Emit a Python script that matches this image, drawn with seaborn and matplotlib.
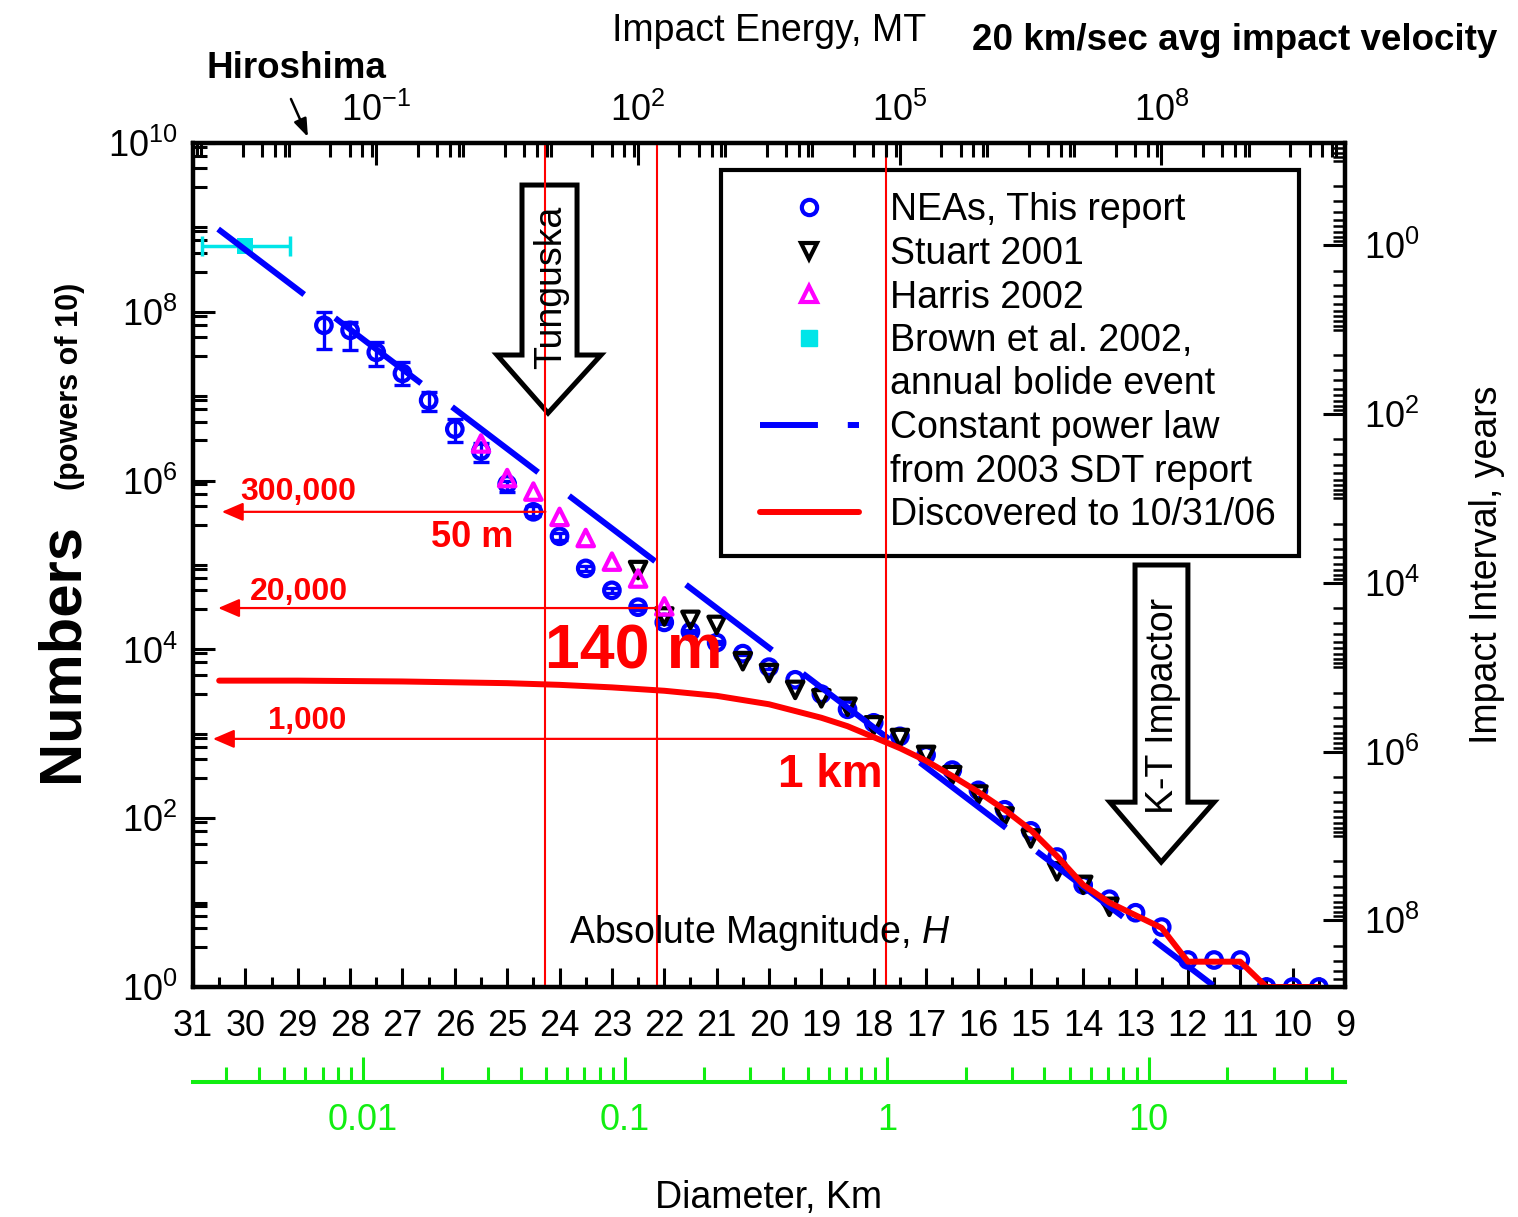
import numpy as np
import matplotlib.pyplot as plt
import matplotlib.ticker as mticker
from matplotlib.lines import Line2D
from matplotlib.patches import Polygon
from matplotlib.legend_handler import HandlerLine2D
import seaborn as sns

# ---- data: absolute magnitude H and log10 of cumulative number N(<H) ----
nea_h = np.array([28.5, 28.0, 27.5, 27.0, 26.5, 26.0, 25.5, 25.0, 24.5, 24.0,
                  23.5, 23.0, 22.5, 22.0, 21.5, 21.0, 20.5, 20.0, 19.5, 19.0,
                  18.5, 18.0, 17.5, 17.0, 16.5, 16.0, 15.5, 15.0, 14.5, 14.0,
                  13.5, 13.0, 12.5, 12.0, 11.5, 11.0, 10.5, 10.0, 9.5])
nea_logn = np.array([7.84, 7.78, 7.52, 7.27, 6.95, 6.61, 6.35, 5.96, 5.63, 5.34,
                     4.96, 4.70, 4.50, 4.32, 4.21, 4.08, 3.95, 3.79, 3.64, 3.47,
                     3.29, 3.13, 2.97, 2.75, 2.57, 2.33, 2.10, 1.85, 1.54, 1.21,
                     1.04, 0.88, 0.71, 0.32, 0.32, 0.32, 0.0, 0.0, 0.0])
# error bars on the faint end (first 18 NEA points)
nea_err_hi = np.array([8.00, 7.88, 7.64, 7.41, 7.05, 6.73, 6.45, 6.00, 5.70, 5.38,
                       4.99, 4.73, 4.53, 4.34, 4.23, 4.10, 3.97, 3.81])
nea_err_lo = np.array([7.56, 7.55, 7.36, 7.13, 6.82, 6.46, 6.22, 5.86, 5.58, 5.30,
                       4.93, 4.67, 4.47, 4.30, 4.19, 4.06, 3.93, 3.77])

stuart_h = np.array([22.5, 22.0, 21.5, 21.0, 20.5, 20.0, 19.5, 19.0, 18.5, 18.0,
                     17.5, 17.0, 16.5, 16.0, 15.5, 15.0, 14.5, 14.0, 13.5])
stuart_logn = np.array([4.94, 4.39, 4.35, 4.29, 3.86, 3.72, 3.52, 3.42, 3.32, 3.10,
                        2.95, 2.75, 2.51, 2.28, 2.02, 1.76, 1.37, 1.21, 0.95])

harris_h = np.array([25.5, 25.0, 24.5, 24.0, 23.5, 23.0, 22.5, 22.0])
harris_logn = np.array([6.44, 6.03, 5.87, 5.57, 5.32, 5.04, 4.84, 4.51])

brown_h = np.array([30.0])
brown_logn = np.array([8.78])
brown_h_lo = np.array([30.85])
brown_h_hi = np.array([29.17])

sdt_h = np.array([30.52, 11.52])
sdt_logn = np.array([8.98, 0.02])

disc_h = np.array([30.5, 29.0, 28.0, 27.0, 26.0, 25.0, 24.0, 23.0, 22.0, 21.0,
                   20.0, 19.5, 19.0, 18.5, 18.0, 17.5, 17.0, 16.5, 16.0, 15.5,
                   15.0, 14.5, 14.0, 13.5, 13.0, 12.5, 12.0, 11.5, 11.0, 10.5,
                   10.0, 9.5])
disc_logn = np.array([3.63, 3.63, 3.625, 3.62, 3.61, 3.60, 3.58, 3.55, 3.51, 3.45,
                      3.35, 3.27, 3.19, 3.09, 2.96, 2.83, 2.68, 2.50, 2.31, 2.10,
                      1.86, 1.55, 1.21, 1.00, 0.85, 0.70, 0.30, 0.30, 0.30, 0.0,
                      0.0, 0.0])

# size markers (50 m, 140 m, 1 km) and population arrows
size_h = [24.27, 22.14, 17.76]
pop_names = ['300,000', '20,000', '1,000']
pop_logn = [5.63, 4.49, 2.94]
pop_tip_h = [30.45, 30.52, 30.62]

# secondary scales: log10(E[MT]) = E0 - 0.6 H, log10(D[km]) = D0 - 0.2 H,
# log10(interval[yr]) = T0 - log10(N)
E0, D0, T0 = 15.503, 3.55, 8.79
H_LEFT, H_RIGHT = 31, 9

BLUE, RED, MAGENTA, CYAN, GREEN = '#0000ff', '#ff0000', '#ff00ff', '#00e5e8', '#11ee11'

sns.set_style('ticks')
plt.rcParams['font.family'] = ['Liberation Sans', 'DejaVu Sans']
plt.rcParams.update({
    'mathtext.fontset': 'custom',
    'mathtext.rm': 'Liberation Sans',
    'mathtext.it': 'Liberation Sans:italic',
    'mathtext.bf': 'Liberation Sans:bold',
    'axes.edgecolor': 'black',
    'axes.labelcolor': 'black',
    'axes.linewidth': 3,
    'xtick.color': 'black',
    'ytick.color': 'black',
    'text.color': 'black',
})


def pow_label(v, pos):
    return '$\\mathdefault{10^{%d}}$' % int(round(np.log10(v)))


W, Hpx = 1518, 1217
fig = plt.figure(figsize=(W / 100, Hpx / 100), dpi=100)
ax = fig.add_axes([193 / W, 1 - 987 / Hpx, (1345 - 193) / W, (987 - 143) / Hpx])
ax.set_yscale('log')

# data points
n_err = len(nea_err_hi)
ax.errorbar(nea_h[:n_err], 10 ** nea_logn[:n_err],
            yerr=[10 ** nea_logn[:n_err] - 10 ** nea_err_lo,
                  10 ** nea_err_hi - 10 ** nea_logn[:n_err]],
            fmt='none', ecolor=BLUE, elinewidth=2.4, capsize=6, capthick=2.4, zorder=3)
sns.scatterplot(x=nea_h, y=10 ** nea_logn, ax=ax, marker='o', s=125, color=BLUE,
                facecolor='none', edgecolor=BLUE, linewidth=3, zorder=3, legend=False)
sns.scatterplot(x=stuart_h, y=10 ** stuart_logn, ax=ax, marker='v', s=140, color='black',
                facecolor='none', edgecolor='black', linewidth=3, zorder=3.5, legend=False)
sns.scatterplot(x=harris_h, y=10 ** harris_logn, ax=ax, marker='^', s=140, color=MAGENTA,
                facecolor='none', edgecolor=MAGENTA, linewidth=3, zorder=3.6, legend=False)
ax.errorbar(brown_h, 10 ** brown_logn, xerr=[brown_h_lo - brown_h, brown_h - brown_h_hi],
            fmt='none', ecolor=CYAN, elinewidth=2.5, capsize=7, capthick=2.5, zorder=3)
sns.scatterplot(x=brown_h, y=10 ** brown_logn, ax=ax, marker='s', s=140, color=CYAN,
                edgecolor=CYAN, linewidth=0, zorder=3.7, legend=False)

# power law and discovered curve
sns.lineplot(x=sdt_h, y=10 ** sdt_logn, ax=ax, color=BLUE, lw=4.3, estimator=None,
             sort=False, linestyle=(0, (18.1, 6.5)), zorder=5)
sns.lineplot(x=disc_h, y=10 ** disc_logn, ax=ax, color=RED, lw=4.3, estimator=None,
             sort=False, zorder=5.5)

ax.set_xlim(H_LEFT, H_RIGHT)
ax.set_ylim(1, 1e10)
ax.set_xlabel('')
ax.set_ylabel('')

# size lines, population arrows and labels
for h in size_h:
    ax.axvline(h, color=RED, lw=1.5, zorder=6)
for ln, tip, h in zip(pop_logn, pop_tip_h, size_h):
    ax.annotate('', xy=(tip, 10 ** ln), xytext=(h, 10 ** ln),
                arrowprops=dict(arrowstyle='-|>,head_length=0.65,head_width=0.28',
                                color=RED, lw=1.6, mutation_scale=20,
                                shrinkA=0, shrinkB=0), zorder=6)
label_pos = {'300,000': (28.99, 5.865, 23), '20,000': (28.98, 4.68, 23),
             '1,000': (28.82, 3.15, 22.5), '50 m': (25.67, 5.33, 26),
             '140 m': (22.58, 3.97, 45), '1 km': (18.83, 2.51, 33)}
for txt, (h, ln, fs) in label_pos.items():
    ax.text(h, 10 ** ln, txt, color=RED, fontsize=fs, fontweight='bold',
            ha='center', va='center', zorder=7)


# block arrows for Tunguska and K-T impactor
def block_arrow(x_l, x_r, w_l, w_r, tip_x, top, base, tip):
    pts = [(x_l, top), (x_r, top), (x_r, base), (w_r, base), (tip_x, tip),
           (w_l, base), (x_l, base)]
    return Polygon([(x, 10 ** y) for x, y in pts], closed=True, fill=False,
                   ec='black', lw=3.6, joinstyle='miter', zorder=4)


ax.add_patch(block_arrow(24.717, 23.666, 25.194, 23.208, 24.22, 9.502, 7.488, 6.80))
ax.add_patch(block_arrow(13.01, 12.0, 13.49, 11.5, 12.51, 5.0, 2.19, 1.48))
ax.text(24.16, 10 ** 8.288, 'Tunguska', rotation=90, ha='center', va='center',
        fontsize=27, zorder=7)
ax.text(12.47, 10 ** 3.33, 'K-T Impactor', rotation=90, ha='center', va='center',
        fontsize=27, zorder=7)
ax.text((760 - 193) / 1152, (987 - 933) / 844, 'Absolute Magnitude, $\\mathit{H}$',
        transform=ax.transAxes, ha='center', va='center', fontsize=27, zorder=7)

# main axis ticks
ax.xaxis.set_major_locator(mticker.MultipleLocator(1))
ax.xaxis.set_minor_locator(mticker.MultipleLocator(0.5))
ax.xaxis.set_major_formatter(mticker.FuncFormatter(lambda v, p: '%d' % round(v)))
ax.yaxis.set_major_locator(mticker.FixedLocator(10.0 ** np.arange(0, 11, 2)))
ax.yaxis.set_minor_locator(mticker.LogLocator(base=10, subs=(1, 3, 5, 7, 9), numticks=100))
ax.yaxis.set_major_formatter(mticker.FuncFormatter(pow_label))
ax.yaxis.set_minor_formatter(mticker.NullFormatter())
ax.tick_params(axis='x', which='major', direction='in', length=14, width=2.2,
               labelsize=26, pad=16, top=False)
ax.tick_params(axis='x', which='minor', direction='in', length=7, width=2.2, top=False)
ax.tick_params(axis='y', which='major', direction='in', length=16, width=2.2,
               labelsize=26, pad=11, right=False)
ax.tick_params(axis='y', which='minor', direction='in', length=10, width=2.2, right=False)

# top: impact energy
ax_e = ax.twiny()
ax_e.set_xscale('log')
ax_e.set_xlim(10 ** (E0 - 0.6 * H_LEFT), 10 ** (E0 - 0.6 * H_RIGHT))
ax_e.xaxis.set_major_locator(mticker.FixedLocator([1e-1, 1e2, 1e5, 1e8]))
ax_e.xaxis.set_minor_locator(mticker.LogLocator(base=10, subs=(1, 3, 5, 7, 9), numticks=100))
ax_e.xaxis.set_major_formatter(mticker.FuncFormatter(pow_label))
ax_e.xaxis.set_minor_formatter(mticker.NullFormatter())
ax_e.tick_params(axis='x', which='major', direction='in', length=16, width=2.2,
                 labelsize=26, pad=10)
ax_e.tick_params(axis='x', which='minor', direction='in', length=10, width=2.2)
ax_e.set_xlabel('Impact Energy, MT', fontsize=27)
ax_e.xaxis.set_label_coords(0.5, (987 - 41) / 844)
ax_e.annotate('', xy=(0.0166, (987 - 137) / 844), xycoords=('data', 'axes fraction'),
              xytext=(0.0106, (987 - 99) / 844), textcoords=('data', 'axes fraction'),
              arrowprops=dict(arrowstyle='-|>,head_length=0.6,head_width=0.22',
                              color='black', lw=1.8, mutation_scale=18,
                              shrinkA=0, shrinkB=0), annotation_clip=False)

# right: impact interval
ax_r = ax.twinx()
ax_r.set_yscale('log')
ax_r.set_ylim(10 ** T0, 10 ** (T0 - 10))
ax_r.yaxis.set_major_locator(mticker.FixedLocator(10.0 ** np.arange(0, 9, 2)))
ax_r.yaxis.set_minor_locator(mticker.LogLocator(base=10, subs=np.arange(1, 10), numticks=100))
ax_r.yaxis.set_major_formatter(mticker.FuncFormatter(pow_label))
ax_r.yaxis.set_minor_formatter(mticker.NullFormatter())
ax_r.tick_params(axis='y', which='major', direction='in', length=16, width=2.2,
                 labelsize=26, pad=14)
ax_r.tick_params(axis='y', which='minor', direction='in', length=9, width=1.8)
ax_r.set_ylabel('Impact Interval, years', fontsize=27)
ax_r.yaxis.set_label_coords((1469 - 193) / 1152, 0.5)

# bottom green: diameter
ax_d = ax.twiny()
ax_d.set_xscale('log')
ax_d.set_xlim(10 ** (D0 - 0.2 * H_LEFT), 10 ** (D0 - 0.2 * H_RIGHT))
ax_d.xaxis.tick_bottom()
ax_d.xaxis.set_label_position('bottom')
for s in ['top', 'left', 'right']:
    ax_d.spines[s].set_visible(False)
ax_d.spines['bottom'].set_position(('outward', 68.4))
ax_d.spines['bottom'].set_color(GREEN)
ax_d.spines['bottom'].set_linewidth(2.9)
ax_d.xaxis.set_major_locator(mticker.FixedLocator([0.01, 0.1, 1, 10]))
ax_d.xaxis.set_minor_locator(mticker.LogLocator(base=10, subs=np.arange(2, 10), numticks=100))
ax_d.xaxis.set_major_formatter(mticker.FuncFormatter(lambda v, p: '%g' % v))
ax_d.xaxis.set_minor_formatter(mticker.NullFormatter())
ax_d.tick_params(axis='x', which='major', direction='in', length=18, width=2.2,
                 colors=GREEN, labelsize=26, pad=15)
ax_d.tick_params(axis='x', which='minor', direction='in', length=11, width=2.2, colors=GREEN)
ax_d.set_xlabel('Diameter, Km', fontsize=27)
ax_d.xaxis.set_label_coords(0.5, (987 - 1180) / 844)

# legend
handles = [
    Line2D([], [], ls='none', marker='o', ms=11, mfc='none', mec=BLUE, mew=3),
    Line2D([], [], ls='none', marker='v', ms=12, mfc='none', mec='black', mew=3),
    Line2D([], [], ls='none', marker='^', ms=12, mfc='none', mec=MAGENTA, mew=3),
    Line2D([], [], ls='none', marker='s', ms=11.5, mfc=CYAN, mec=CYAN),
    Line2D([], [], ls='none'),
    Line2D([], [], color=BLUE, lw=4.3, ls=(0, (9.7, 5.0))),
    Line2D([], [], ls='none'),
    Line2D([], [], color=RED, lw=4.3),
]
labels = ['NEAs, This report', 'Stuart 2001', 'Harris 2002', 'Brown et al. 2002,',
          'annual bolide event', 'Constant power law', 'from 2003 SDT report',
          'Discovered to 10/31/06']
leg = ax.legend(handles, labels, loc='upper left',
                bbox_to_anchor=((721 - 193) / 1152, (987 - 170) / 844),
                borderaxespad=0, fontsize=27, frameon=True, fancybox=False,
                edgecolor='black', framealpha=1, borderpad=0.6, labelspacing=0.2,
                handlelength=3.07, handletextpad=0.85,
                handler_map={Line2D: HandlerLine2D(xpad=0.45)})
leg.get_frame().set_linewidth(3)
leg.set_zorder(5.8)

# outer labels
fig.text(77 / W, 1 - 782 / Hpx, 'Numbers', rotation=90, rotation_mode='anchor',
         ha='left', va='baseline', fontsize=43, fontweight='bold')
fig.text(78 / W, 1 - 490 / Hpx, '(powers of 10)', rotation=90, rotation_mode='anchor',
         ha='left', va='baseline', fontsize=22, fontweight='bold')
fig.text(296 / W, 1 - 68 / Hpx, 'Hiroshima', ha='center', va='center',
         fontsize=26.5, fontweight='bold')
fig.text(1497 / W, 1 - 40 / Hpx, '20 km/sec avg impact velocity', ha='right',
         va='center', fontsize=26.5, fontweight='bold')

fig.savefig('out.png', dpi=100)
